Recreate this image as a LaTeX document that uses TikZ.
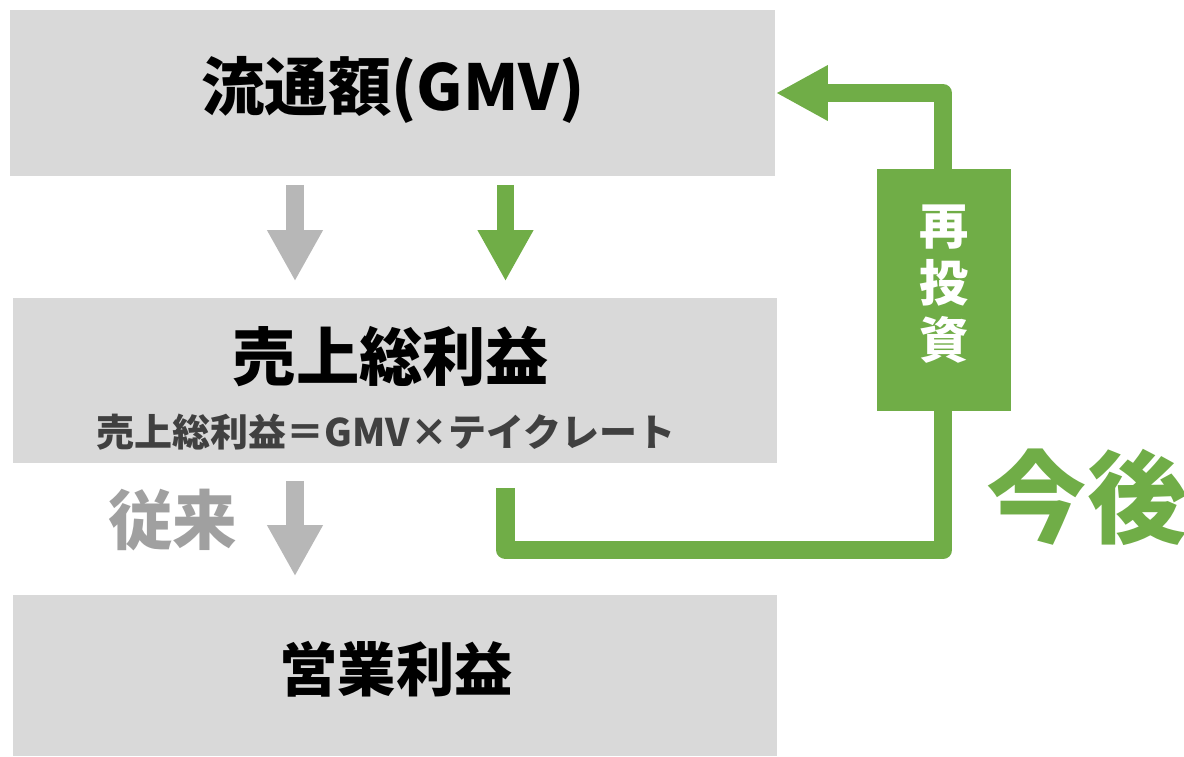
\documentclass[tikz,border=0pt]{standalone}
\usepackage{fontspec}
\newfontfamily\cjk{Noto Sans CJK JP}
\usetikzlibrary{arrows.meta,positioning,calc,backgrounds}
\definecolor{boxgray}{HTML}{D9D9D9}
\definecolor{arrgray}{HTML}{B7B7B7}
\definecolor{leafgreen}{HTML}{70AD47}
\definecolor{subgray}{HTML}{404040}
\definecolor{oldgray}{HTML}{A0A0A0}
\tikzset{stage/.style={fill=boxgray, minimum width=7.64cm, inner sep=0pt},
         bigtext/.style={font=\cjk\bfseries\fontsize{18}{20}\selectfont, inner sep=0pt},
         fatarrow/.style={line width=0.17cm, -{Triangle[length=0.51cm,width=0.52cm]}}}

\begin{document}
\begin{tikzpicture}[x=0.01cm,y=-0.01cm]
\useasboundingbox (0,0) rectangle (1184,756);

\node[stage, minimum width=7.65cm, minimum height=1.66cm] (gmv) at (392.5,93) {};
\node[stage, minimum height=1.65cm] (gross) at (395,380.5) {};
\node[stage, minimum height=1.61cm] (op) at (395,675.5) {};

\node[bigtext] (gmvlabel) at (393,90) {流通額(GMV)};
\node[bigtext] (grosslabel) at (391,357) {売上総利益};
\node[inner sep=0pt, text=subgray, font=\cjk\bfseries\fontsize{10.8}{12}\selectfont] (formula) at (386,432) {売上総利益＝GMV×テイクレート};
\node[bigtext, font=\cjk\bfseries\fontsize{16.6}{18}\selectfont] (oplabel) at (396,669) {営業利益};

\node[fill=leafgreen, minimum width=1.34cm, minimum height=2.42cm, inner sep=0pt] (reinvest) at (944,290) {};
\node[text=white, align=center, inner sep=0pt, font=\cjk\bfseries\fontsize{14}{16.2}\selectfont] (reinvestlabel) at (944,284) {再\\投\\資};

\node[text=oldgray, inner sep=0pt, font=\cjk\bfseries\fontsize{18.4}{20}\selectfont] (before) at (173,520) {従来};
\node[text=leafgreen, inner sep=0pt, font=\cjk\bfseries\fontsize{28.5}{30}\selectfont] (after) at (1087,497) {今後};

\draw[fatarrow, arrgray] ($(gmv.south)+(-97.5,8)$) -- ($(gross.north)+(-100,-16)$);
\draw[fatarrow, leafgreen] ($(gmv.south)+(113,8)$) -- ($(gross.north)+(110.5,-16)$);
\draw[fatarrow, arrgray] ($(gross.south)+(-100,17)$) -- ($(op.north)+(-100,-18)$);

% reinvestment loop, kept behind the green box
\begin{scope}[on background layer]
\draw[leafgreen, line width=0.18cm, line join=round, -{Triangle[length=0.52cm,width=0.52cm]}]
      ($(gross.south)+(110.5,24)$) |- ($(reinvest.south)+(-1,138.5)$) -- ($(reinvest.north |- gmv.east)+(-1,0)$) -- (gmv.east);
\end{scope}
\end{tikzpicture}
\end{document}
